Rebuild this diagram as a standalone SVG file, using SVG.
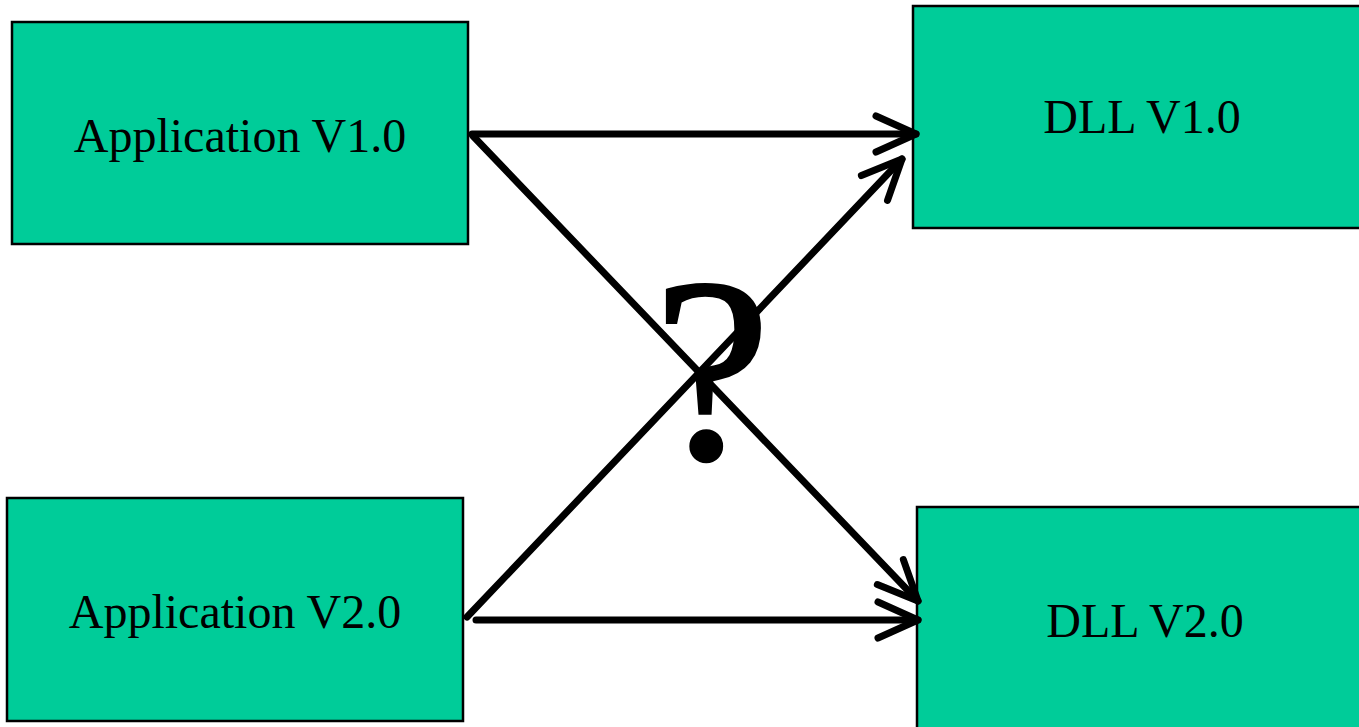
<svg xmlns="http://www.w3.org/2000/svg" width="1359" height="727" viewBox="0 0 1359 727">
<style>
.box{fill:#00CC99;stroke:#000;stroke-width:2.5}
.lbl{font-family:"Liberation Serif","Times New Roman",serif;font-size:48px;fill:#000;text-anchor:middle}
.conn{stroke:#000;stroke-width:7;fill:none;stroke-linecap:round}
.q{font-family:"Liberation Serif","Times New Roman",serif;font-size:262px;fill:#000;stroke:#000;stroke-width:3;text-anchor:middle}
</style>
<defs>
<marker id="arr" markerUnits="userSpaceOnUse" orient="auto" refX="0" refY="0" markerWidth="60" markerHeight="60" viewBox="-50 -30 60 60" overflow="visible">
<path d="M-40,-18 L0,0 L-40,18" fill="none" stroke="#000" stroke-width="7" stroke-linecap="round" stroke-linejoin="round"/>
</marker>
</defs>
<rect width="1359" height="727" fill="#fff"/>
<g id="app1"><rect class="box" x="12" y="22" width="456" height="222"/><text class="lbl" x="240" y="152">Application V1.0</text></g>
<g id="app2"><rect class="box" x="7" y="498" width="456" height="223"/><text class="lbl" x="235" y="628">Application V2.0</text></g>
<g id="dll1"><rect class="box" x="913" y="6" width="458" height="222"/><text class="lbl" x="1142" y="133">DLL V1.0</text></g>
<g id="dll2"><rect class="box" x="917" y="507" width="456" height="230"/><text class="lbl" x="1145" y="637">DLL V2.0</text></g>
<g id="connectors">
<line class="conn" x1="472" y1="134" x2="916" y2="134" marker-end="url(#arr)"/>
<line class="conn" x1="473" y1="136" x2="918" y2="601" marker-end="url(#arr)"/>
<line class="conn" x1="467" y1="617" x2="902" y2="159" marker-end="url(#arr)"/>
<line class="conn" x1="476" y1="620" x2="918" y2="620" marker-end="url(#arr)"/>
</g>
<text class="q" x="712" y="458">?</text>
</svg>
